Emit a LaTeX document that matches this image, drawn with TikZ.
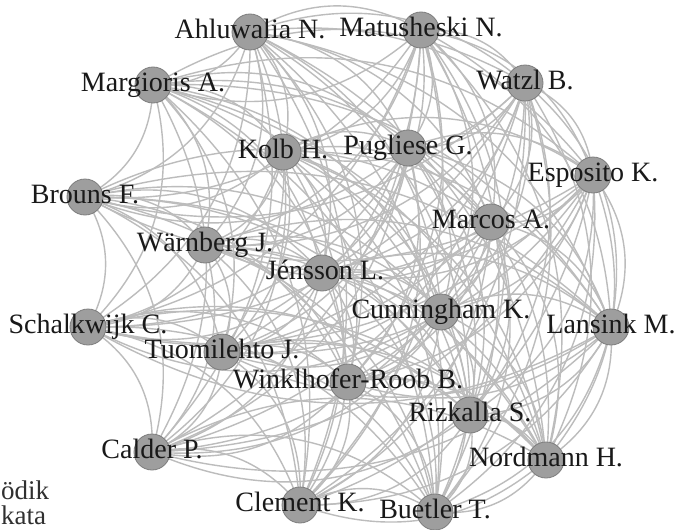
\documentclass[tikz,border=0pt]{standalone}
\usepackage{fontspec}
\setmainfont{Liberation Serif}
\definecolor{edgecol}{RGB}{188,188,188}
\definecolor{nodefill}{RGB}{158,158,158}
\definecolor{nodeline}{RGB}{125,125,125}
\definecolor{labelcol}{RGB}{25,25,25}
\begin{document}
\begin{tikzpicture}[x=1pt,y=-1pt,
  vertex/.style={circle,fill=nodefill,draw=nodeline,line width=0.8pt,minimum size=36pt,inner sep=0pt},
  edge/.style={draw=edgecol,line width=1.4pt},
  lbl/.style={text=labelcol,font=\fontsize{28}{30}\selectfont,inner sep=0pt,anchor=base},
  pagetext/.style={text=labelcol!90,font=\fontsize{27}{29}\selectfont,inner sep=0pt}]
\useasboundingbox (0,0) rectangle (678,530);
\clip (0,0) rectangle (678,530);
\fill[white] (0,0) rectangle (678,530);
% node positions
\foreach \k/\x/\y in {1/250/32, 2/421/30, 3/153/85, 4/525/83, 5/283/152, 6/408/148,
  7/593/175, 8/85/197, 9/491/222, 10/205/245, 11/322/273, 12/441/312, 13/611/327,
  14/88/327, 15/222/352, 16/348/382, 17/470/415, 18/152/452, 19/546/460, 20/300/505, 21/435/512}
  {\coordinate (n\k) at (\x,\y);}
% edges
\foreach \i in {1,...,21}{
  \foreach \j in {1,...,21}{
    \ifnum\j>\i
      \draw[edge] (n\i) to[bend left=30] (n\j);
    \fi
  }
}
% node circles on top
\foreach \k in {1,...,21}
  {\node[vertex] (m\k) at (n\k) {};}
% labels
\node[lbl] (l1) at ([yshift=-6pt]n1) {Ahluwalia N.};
\node[lbl] (l2) at ([yshift=-6pt]n2) {Matusheski N.};
\node[lbl] (l3) at ([yshift=-6pt]n3) {Margioris A.};
\node[lbl] (l4) at ([yshift=-6pt]n4) {Watzl B.};
\node[lbl] (l5) at ([yshift=-6pt]n5) {Kolb H.};
\node[lbl] (l6) at ([yshift=-6pt]n6) {Pugliese G.};
\node[lbl] (l7) at ([yshift=-6pt]n7) {Esposito K.};
\node[lbl] (l8) at ([yshift=-6pt]n8) {Brouns F.};
\node[lbl] (l9) at ([yshift=-6pt]n9) {Marcos A.};
\node[lbl] (l10) at ([yshift=-6pt]n10) {Wärnberg J.};
\node[lbl] (l11) at ([yshift=-6pt,xshift=3pt]n11) {Jénsson L.};
\node[lbl] (l12) at ([yshift=-6pt]n12) {Cunningham K.};
\node[lbl] (l13) at ([yshift=-6pt]n13) {Lansink M.};
\node[lbl] (l14) at ([yshift=-6pt]n14) {Schalkwijk C.};
\node[lbl] (l15) at ([yshift=-6pt]n15) {Tuomilehto J.};
\node[lbl] (l16) at ([yshift=-6pt]n16) {Winklhofer-Roob B.};
\node[lbl] (l17) at ([yshift=-6pt]n17) {Rizkalla S.};
\node[lbl] (l18) at ([yshift=-6pt]n18) {Calder P.};
\node[lbl] (l19) at ([yshift=-6pt]n19) {Nordmann H.};
\node[lbl] (l20) at ([yshift=-6pt]n20) {Clement K.};
\node[lbl] (l21) at ([yshift=-6pt]n21) {Buetler T.};
% stray page text
\node[pagetext,anchor=base west] (p1) at (1,499) {ödik};
\node[pagetext,anchor=base west] (p2) at (1,524) {kata};
\end{tikzpicture}
\end{document}
